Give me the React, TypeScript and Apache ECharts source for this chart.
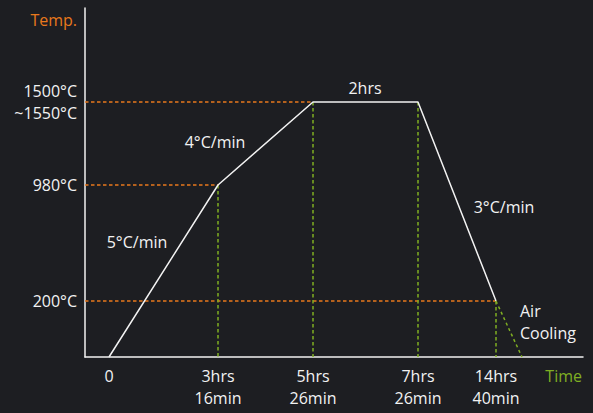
import React, { useEffect, useRef } from "react";
import * as echarts from "echarts";

// Schematic positions along the (non-proportional) time axis
const timeTicks = [24, 133, 228, 333, 411];
const timeLabels = ["0", "3hrs\n16min", "5hrs\n26min", "7hrs\n26min", "14hrs\n40min"];
// Schematic positions along the (non-proportional) temperature axis
const tempTicks = [56, 172, 255];
const tempLabels = ["200°C", "980°C", "1500°C\n~1550°C"];

// Heat-treatment profile (schematic units)
const profileTime = [24, 133, 228, 333, 411];
const profileTemp = [0, 172, 255, 255, 56];
// Air cooling segment
const airTime = [411, 437];
const airTemp = [56, 0];

// Guides: orange horizontal to these profile indices, green vertical from these
const hGuideIdx = [1, 2, 4];
const vGuideIdx = [1, 2, 3, 4];

const BG = "#1d1e22";
const WHITE = "#f2f2f2";
const ORANGE = "#e8781c";
const GREEN = "#7fae22";
const FONT = '"Open Sans", sans-serif';

export default function App() {
  const ref = useRef<HTMLDivElement>(null);
  useEffect(() => {
    document.body.style.margin = "0";
    const chart = echarts.init(ref.current!, null, { renderer: "svg" });
    const profile = profileTime.map((t, i) => [t, profileTemp[i]]);
    const air = airTime.map((t, i) => [t, airTemp[i]]);
    const guides: any[] = [];
    hGuideIdx.forEach((i) => {
      guides.push([
        { coord: [0, profileTemp[i]], lineStyle: { color: ORANGE } },
        { coord: [profileTime[i], profileTemp[i]] },
      ]);
    });
    vGuideIdx.forEach((i) => {
      guides.push([
        { coord: [profileTime[i], profileTemp[i]], lineStyle: { color: GREEN } },
        { coord: [profileTime[i], 0] },
      ]);
    });
    const textStyle = (extra: any) => ({
      fill: WHITE,
      fontSize: 16,
      fontFamily: FONT,
      ...extra,
    });
    chart.setOption({
      animation: false,
      backgroundColor: BG,
      grid: { left: 85, right: 10, top: 8, bottom: 56 },
      xAxis: {
        type: "value",
        min: 0,
        max: 498,
        axisLine: { lineStyle: { color: WHITE, width: 1.5 } },
        axisTick: { show: false },
        splitLine: { show: false },
        axisLabel: {
          customValues: timeTicks,
          margin: 8,
          formatter: (v: number) => {
            const i = timeTicks.indexOf(v);
            if (i < 0) return "";
            return timeLabels[i]
              .split("\n")
              .map((s) => `{t|${s}}`)
              .join("\n");
          },
          rich: {
            t: { color: WHITE, fontSize: 16, fontFamily: FONT, lineHeight: 22 },
          },
        },
      },
      yAxis: {
        type: "value",
        min: 0,
        max: 349,
        axisLine: { show: true, lineStyle: { color: WHITE, width: 1.5 } },
        axisTick: { show: false },
        splitLine: { show: false },
        axisLabel: {
          customValues: tempTicks,
          margin: 8,
          color: WHITE,
          fontSize: 16,
          fontFamily: FONT,
          lineHeight: 22,
          formatter: (v: number) => {
            const i = tempTicks.indexOf(v);
            return i < 0 ? "" : tempLabels[i];
          },
        },
      },
      series: [
        {
          type: "line",
          data: profile,
          symbol: "none",
          lineStyle: { color: WHITE, width: 1.5 },
          z: 3,
          markLine: {
            silent: true,
            symbol: ["none", "none"],
            label: { show: false },
            lineStyle: { type: [3.5, 2.5], width: 1.5 },
            data: guides,
            z: 2,
          },
        },
        {
          type: "line",
          data: air,
          symbol: "none",
          lineStyle: { color: GREEN, width: 1.5, type: [3, 3] },
        },
      ],
      graphic: [
        { type: "text", x: 77, y: 20, style: textStyle({ text: "Temp.", fill: ORANGE, align: "right", verticalAlign: "middle" }) },
        { type: "text", x: 582, y: 376, style: textStyle({ text: "Time", fill: GREEN, align: "right", verticalAlign: "middle" }) },
        { type: "text", x: 215, y: 142, style: textStyle({ text: "4°C/min", align: "center", verticalAlign: "middle" }) },
        { type: "text", x: 365, y: 88, style: textStyle({ text: "2hrs", align: "center", verticalAlign: "middle" }) },
        { type: "text", x: 137, y: 242, style: textStyle({ text: "5°C/min", align: "center", verticalAlign: "middle" }) },
        { type: "text", x: 504, y: 207, style: textStyle({ text: "3°C/min", align: "center", verticalAlign: "middle" }) },
        { type: "text", x: 520, y: 300, style: textStyle({ text: "Air\nCooling", align: "left", verticalAlign: "top", lineHeight: 22 }) },
      ],
    });
    return () => chart.dispose();
  }, []);
  return (
    <div
      ref={ref}
      style={{ position: "fixed", left: 0, top: 0, width: 593, height: 413 }}
    />
  );
}
